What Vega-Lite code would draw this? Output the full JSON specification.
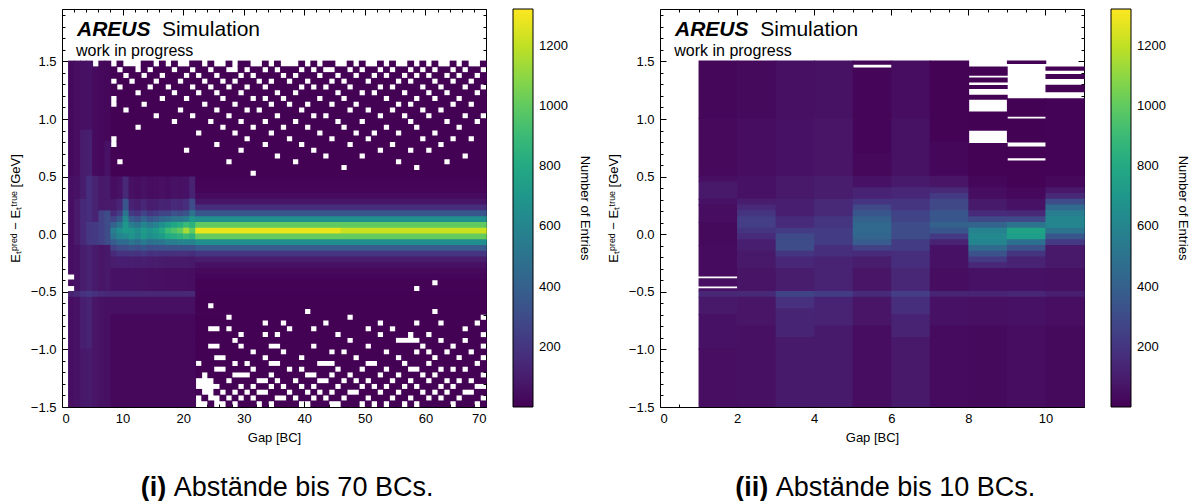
{
"$schema": "https://vega.github.io/schema/vega-lite/v6.json",
"background": "white",
"padding": {"left": 8, "top": 8, "right": 0, "bottom": 0},
"config": {
  "font": "Liberation Sans",
  "view": {"stroke": "#000", "strokeWidth": 1},
  "axis": {"domain": false, "grid": false, "tickColor": "#000", "labelColor": "#000", "titleColor": "#000", "labelFont": "Liberation Sans", "titleFont": "Liberation Sans", "labelFontSize": 13, "titleFontSize": 13, "titleFontWeight": "normal", "tickWidth": 1},
  "legend": {"labelFont": "Liberation Sans", "titleFont": "Liberation Sans", "labelFontSize": 13, "titleFontSize": 13, "titleFontWeight": "normal", "labelColor": "#000", "titleColor": "#000"},
  "text": {"font": "Liberation Sans", "color": "#000"}
},
"datasets": {
  "L": [
    {"x":1,"x2":2,"y":0.5,"y2":1.5,"n":30},{"x":1,"x2":2,"y":-0.35,"y2":0.5,"n":45},{"x":1,"x2":2,"y":-0.45,"y2":-0.4,"n":40},{"x":1,"x2":2,"y":-0.55,"y2":-0.5,"n":120},{"x":1,"x2":2,"y":-1.5,"y2":-0.55,"n":45},
    {"x":2,"x2":3,"y":0.5,"y2":1.5,"n":40},{"x":2,"x2":3,"y":0.3,"y2":0.5,"n":60},{"x":2,"x2":3,"y":-0.1,"y2":0.3,"n":90},{"x":2,"x2":3,"y":-0.5,"y2":-0.1,"n":60},{"x":2,"x2":3,"y":-0.55,"y2":-0.5,"n":150},{"x":2,"x2":3,"y":-1.5,"y2":-0.55,"n":60},
    {"x":3,"x2":4,"y":0.9,"y2":1.5,"n":50},{"x":3,"x2":4,"y":0.3,"y2":0.9,"n":100},{"x":3,"x2":4,"y":-0.1,"y2":0.3,"n":150},{"x":3,"x2":4,"y":-0.5,"y2":-0.1,"n":100},{"x":3,"x2":4,"y":-0.55,"y2":-0.5,"n":190},{"x":3,"x2":4,"y":-1.0,"y2":-0.55,"n":110},{"x":3,"x2":4,"y":-1.5,"y2":-1.0,"n":80},
    {"x":4,"x2":5,"y":0.9,"y2":1.5,"n":60},{"x":4,"x2":5,"y":0.5,"y2":0.9,"n":110},{"x":4,"x2":5,"y":0.1,"y2":0.5,"n":170},{"x":4,"x2":5,"y":-0.1,"y2":0.1,"n":210},{"x":4,"x2":5,"y":-0.5,"y2":-0.1,"n":120},{"x":4,"x2":5,"y":-0.55,"y2":-0.5,"n":210},{"x":4,"x2":5,"y":-1.0,"y2":-0.55,"n":120},{"x":4,"x2":5,"y":-1.5,"y2":-1.0,"n":90},
    {"x":5,"x2":6,"y":0.5,"y2":1.45,"n":35},{"x":5,"x2":6,"y":0.1,"y2":0.5,"n":120},{"x":5,"x2":6,"y":-0.1,"y2":0.1,"n":220},{"x":5,"x2":6,"y":-0.5,"y2":-0.1,"n":90},{"x":5,"x2":6,"y":-0.55,"y2":-0.5,"n":180},{"x":5,"x2":6,"y":-1.5,"y2":-0.55,"n":70},
    {"x":6,"x2":7,"y":0.5,"y2":1.5,"n":25},{"x":6,"x2":7,"y":0.2,"y2":0.5,"n":80},{"x":6,"x2":7,"y":-0.1,"y2":0.2,"n":250},{"x":6,"x2":7,"y":-0.5,"y2":-0.1,"n":70},{"x":6,"x2":7,"y":-0.55,"y2":-0.5,"n":160},{"x":6,"x2":7,"y":-1.5,"y2":-0.55,"n":55},
    {"x":7,"x2":8,"y":0.8,"y2":1.5,"n":20},{"x":7,"x2":8,"y":0.5,"y2":0.8,"n":60},{"x":7,"x2":8,"y":0.2,"y2":0.5,"n":90},{"x":7,"x2":8,"y":-0.1,"y2":0.2,"n":300},{"x":7,"x2":8,"y":-0.5,"y2":-0.1,"n":80},{"x":7,"x2":8,"y":-0.55,"y2":-0.5,"n":150},{"x":7,"x2":8,"y":-1.5,"y2":-0.55,"n":50},

    {"x":8,"x2":9,"y":0.3,"y2":0.5,"n":40},{"x":8,"x2":9,"y":0.2,"y2":0.3,"n":90},{"x":8,"x2":9,"y":0.15,"y2":0.2,"n":160},{"x":8,"x2":9,"y":0.1,"y2":0.15,"n":260},{"x":8,"x2":9,"y":0.05,"y2":0.1,"n":400},{"x":8,"x2":9,"y":0,"y2":0.05,"n":560},{"x":8,"x2":9,"y":-0.05,"y2":0,"n":520},{"x":8,"x2":9,"y":-0.1,"y2":-0.05,"n":380},{"x":8,"x2":9,"y":-0.15,"y2":-0.1,"n":250},{"x":8,"x2":9,"y":-0.2,"y2":-0.15,"n":160},{"x":8,"x2":9,"y":-0.3,"y2":-0.2,"n":100},{"x":8,"x2":9,"y":-0.5,"y2":-0.3,"n":60},
    {"x":9,"x2":10,"y":0.3,"y2":0.5,"n":60},{"x":9,"x2":10,"y":0.2,"y2":0.3,"n":130},{"x":9,"x2":10,"y":0.15,"y2":0.2,"n":230},{"x":9,"x2":10,"y":0.1,"y2":0.15,"n":360},{"x":9,"x2":10,"y":0.05,"y2":0.1,"n":520},{"x":9,"x2":10,"y":0,"y2":0.05,"n":650},{"x":9,"x2":10,"y":-0.05,"y2":0,"n":600},{"x":9,"x2":10,"y":-0.1,"y2":-0.05,"n":450},{"x":9,"x2":10,"y":-0.15,"y2":-0.1,"n":300},{"x":9,"x2":10,"y":-0.2,"y2":-0.15,"n":190},{"x":9,"x2":10,"y":-0.3,"y2":-0.2,"n":110},{"x":9,"x2":10,"y":-0.5,"y2":-0.3,"n":60},
    {"x":10,"x2":11,"y":0.3,"y2":0.5,"n":150},{"x":10,"x2":11,"y":0.2,"y2":0.3,"n":350},{"x":10,"x2":11,"y":0.15,"y2":0.2,"n":500},{"x":10,"x2":11,"y":0.1,"y2":0.15,"n":620},{"x":10,"x2":11,"y":0.05,"y2":0.1,"n":700},{"x":10,"x2":11,"y":0,"y2":0.05,"n":720},{"x":10,"x2":11,"y":-0.05,"y2":0,"n":620},{"x":10,"x2":11,"y":-0.1,"y2":-0.05,"n":450},{"x":10,"x2":11,"y":-0.15,"y2":-0.1,"n":300},{"x":10,"x2":11,"y":-0.2,"y2":-0.15,"n":190},{"x":10,"x2":11,"y":-0.3,"y2":-0.2,"n":110},{"x":10,"x2":11,"y":-0.5,"y2":-0.3,"n":60},
    {"x":11,"x2":12,"y":0.3,"y2":0.5,"n":50},{"x":11,"x2":12,"y":0.2,"y2":0.3,"n":120},{"x":11,"x2":12,"y":0.15,"y2":0.2,"n":220},{"x":11,"x2":12,"y":0.1,"y2":0.15,"n":380},{"x":11,"x2":12,"y":0.05,"y2":0.1,"n":560},{"x":11,"x2":12,"y":0,"y2":0.05,"n":700},{"x":11,"x2":12,"y":-0.05,"y2":0,"n":680},{"x":11,"x2":12,"y":-0.1,"y2":-0.05,"n":520},{"x":11,"x2":12,"y":-0.15,"y2":-0.1,"n":340},{"x":11,"x2":12,"y":-0.2,"y2":-0.15,"n":200},{"x":11,"x2":12,"y":-0.3,"y2":-0.2,"n":110},{"x":11,"x2":12,"y":-0.5,"y2":-0.3,"n":60},
    {"x":12,"x2":13,"y":0.3,"y2":0.5,"n":40},{"x":12,"x2":13,"y":0.2,"y2":0.3,"n":100},{"x":12,"x2":13,"y":0.15,"y2":0.2,"n":190},{"x":12,"x2":13,"y":0.1,"y2":0.15,"n":330},{"x":12,"x2":13,"y":0.05,"y2":0.1,"n":500},{"x":12,"x2":13,"y":0,"y2":0.05,"n":640},{"x":12,"x2":13,"y":-0.05,"y2":0,"n":620},{"x":12,"x2":13,"y":-0.1,"y2":-0.05,"n":470},{"x":12,"x2":13,"y":-0.15,"y2":-0.1,"n":310},{"x":12,"x2":13,"y":-0.2,"y2":-0.15,"n":190},{"x":12,"x2":13,"y":-0.3,"y2":-0.2,"n":100},{"x":12,"x2":13,"y":-0.5,"y2":-0.3,"n":55},
    {"x":13,"x2":14,"y":0.3,"y2":0.5,"n":60},{"x":13,"x2":14,"y":0.2,"y2":0.3,"n":140},{"x":13,"x2":14,"y":0.15,"y2":0.2,"n":260},{"x":13,"x2":14,"y":0.1,"y2":0.15,"n":420},{"x":13,"x2":14,"y":0.05,"y2":0.1,"n":600},{"x":13,"x2":14,"y":0,"y2":0.05,"n":720},{"x":13,"x2":14,"y":-0.05,"y2":0,"n":700},{"x":13,"x2":14,"y":-0.1,"y2":-0.05,"n":540},{"x":13,"x2":14,"y":-0.15,"y2":-0.1,"n":350},{"x":13,"x2":14,"y":-0.2,"y2":-0.15,"n":210},{"x":13,"x2":14,"y":-0.3,"y2":-0.2,"n":110},{"x":13,"x2":14,"y":-0.5,"y2":-0.3,"n":55},
    {"x":14,"x2":15,"y":0.3,"y2":0.5,"n":40},{"x":14,"x2":15,"y":0.2,"y2":0.3,"n":100},{"x":14,"x2":15,"y":0.15,"y2":0.2,"n":200},{"x":14,"x2":15,"y":0.1,"y2":0.15,"n":350},{"x":14,"x2":15,"y":0.05,"y2":0.1,"n":540},{"x":14,"x2":15,"y":0,"y2":0.05,"n":680},{"x":14,"x2":15,"y":-0.05,"y2":0,"n":640},{"x":14,"x2":15,"y":-0.1,"y2":-0.05,"n":480},{"x":14,"x2":15,"y":-0.15,"y2":-0.1,"n":310},{"x":14,"x2":15,"y":-0.2,"y2":-0.15,"n":180},{"x":14,"x2":15,"y":-0.3,"y2":-0.2,"n":100},{"x":14,"x2":15,"y":-0.5,"y2":-0.3,"n":50},
    {"x":15,"x2":16,"y":0.3,"y2":0.5,"n":40},{"x":15,"x2":16,"y":0.2,"y2":0.3,"n":110},{"x":15,"x2":16,"y":0.15,"y2":0.2,"n":220},{"x":15,"x2":16,"y":0.1,"y2":0.15,"n":380},{"x":15,"x2":16,"y":0.05,"y2":0.1,"n":580},{"x":15,"x2":16,"y":0,"y2":0.05,"n":720},{"x":15,"x2":16,"y":-0.05,"y2":0,"n":680},{"x":15,"x2":16,"y":-0.1,"y2":-0.05,"n":500},{"x":15,"x2":16,"y":-0.15,"y2":-0.1,"n":320},{"x":15,"x2":16,"y":-0.2,"y2":-0.15,"n":190},{"x":15,"x2":16,"y":-0.3,"y2":-0.2,"n":100},{"x":15,"x2":16,"y":-0.5,"y2":-0.3,"n":50},
    {"x":16,"x2":17,"y":0.3,"y2":0.5,"n":50},{"x":16,"x2":17,"y":0.2,"y2":0.3,"n":130},{"x":16,"x2":17,"y":0.15,"y2":0.2,"n":260},{"x":16,"x2":17,"y":0.1,"y2":0.15,"n":440},{"x":16,"x2":17,"y":0.05,"y2":0.1,"n":650},{"x":16,"x2":17,"y":0,"y2":0.05,"n":800},{"x":16,"x2":17,"y":-0.05,"y2":0,"n":720},{"x":16,"x2":17,"y":-0.1,"y2":-0.05,"n":520},{"x":16,"x2":17,"y":-0.15,"y2":-0.1,"n":320},{"x":16,"x2":17,"y":-0.2,"y2":-0.15,"n":180},{"x":16,"x2":17,"y":-0.3,"y2":-0.2,"n":95},{"x":16,"x2":17,"y":-0.5,"y2":-0.3,"n":50},
    {"x":17,"x2":18,"y":0.3,"y2":0.5,"n":40},{"x":17,"x2":18,"y":0.2,"y2":0.3,"n":120},{"x":17,"x2":18,"y":0.15,"y2":0.2,"n":260},{"x":17,"x2":18,"y":0.1,"y2":0.15,"n":460},{"x":17,"x2":18,"y":0.05,"y2":0.1,"n":720},{"x":17,"x2":18,"y":0,"y2":0.05,"n":900},{"x":17,"x2":18,"y":-0.05,"y2":0,"n":800},{"x":17,"x2":18,"y":-0.1,"y2":-0.05,"n":560},{"x":17,"x2":18,"y":-0.15,"y2":-0.1,"n":330},{"x":17,"x2":18,"y":-0.2,"y2":-0.15,"n":180},{"x":17,"x2":18,"y":-0.3,"y2":-0.2,"n":90},{"x":17,"x2":18,"y":-0.5,"y2":-0.3,"n":45},
    {"x":18,"x2":19,"y":0.3,"y2":0.5,"n":60},{"x":18,"x2":19,"y":0.2,"y2":0.3,"n":160},{"x":18,"x2":19,"y":0.15,"y2":0.2,"n":320},{"x":18,"x2":19,"y":0.1,"y2":0.15,"n":520},{"x":18,"x2":19,"y":0.05,"y2":0.1,"n":780},{"x":18,"x2":19,"y":0,"y2":0.05,"n":950},{"x":18,"x2":19,"y":-0.05,"y2":0,"n":820},{"x":18,"x2":19,"y":-0.1,"y2":-0.05,"n":560},{"x":18,"x2":19,"y":-0.15,"y2":-0.1,"n":330},{"x":18,"x2":19,"y":-0.2,"y2":-0.15,"n":180},{"x":18,"x2":19,"y":-0.3,"y2":-0.2,"n":90},{"x":18,"x2":19,"y":-0.5,"y2":-0.3,"n":45},
    {"x":19,"x2":20,"y":0.3,"y2":0.5,"n":50},{"x":19,"x2":20,"y":0.2,"y2":0.3,"n":140},{"x":19,"x2":20,"y":0.15,"y2":0.2,"n":300},{"x":19,"x2":20,"y":0.1,"y2":0.15,"n":520},{"x":19,"x2":20,"y":0.05,"y2":0.1,"n":820},{"x":19,"x2":20,"y":0,"y2":0.05,"n":1000},{"x":19,"x2":20,"y":-0.05,"y2":0,"n":850},{"x":19,"x2":20,"y":-0.1,"y2":-0.05,"n":580},{"x":19,"x2":20,"y":-0.15,"y2":-0.1,"n":340},{"x":19,"x2":20,"y":-0.2,"y2":-0.15,"n":180},{"x":19,"x2":20,"y":-0.3,"y2":-0.2,"n":90},{"x":19,"x2":20,"y":-0.5,"y2":-0.3,"n":45},
    {"x":20,"x2":21,"y":0.3,"y2":0.5,"n":60},{"x":20,"x2":21,"y":0.2,"y2":0.3,"n":170},{"x":20,"x2":21,"y":0.15,"y2":0.2,"n":340},{"x":20,"x2":21,"y":0.1,"y2":0.15,"n":560},{"x":20,"x2":21,"y":0.05,"y2":0.1,"n":900},{"x":20,"x2":21,"y":0,"y2":0.05,"n":1150},{"x":20,"x2":21,"y":-0.05,"y2":0,"n":900},{"x":20,"x2":21,"y":-0.1,"y2":-0.05,"n":600},{"x":20,"x2":21,"y":-0.15,"y2":-0.1,"n":340},{"x":20,"x2":21,"y":-0.2,"y2":-0.15,"n":180},{"x":20,"x2":21,"y":-0.3,"y2":-0.2,"n":90},{"x":20,"x2":21,"y":-0.5,"y2":-0.3,"n":45},
    {"x":21,"x2":22,"y":0.3,"y2":0.5,"n":120},{"x":21,"x2":22,"y":0.2,"y2":0.3,"n":300},{"x":21,"x2":22,"y":0.15,"y2":0.2,"n":500},{"x":21,"x2":22,"y":0.1,"y2":0.15,"n":700},{"x":21,"x2":22,"y":0.05,"y2":0.1,"n":850},{"x":21,"x2":22,"y":0,"y2":0.05,"n":1000},{"x":21,"x2":22,"y":-0.05,"y2":0,"n":850},{"x":21,"x2":22,"y":-0.1,"y2":-0.05,"n":580},{"x":21,"x2":22,"y":-0.15,"y2":-0.1,"n":330},{"x":21,"x2":22,"y":-0.2,"y2":-0.15,"n":170},{"x":21,"x2":22,"y":-0.3,"y2":-0.2,"n":85},{"x":21,"x2":22,"y":-0.5,"y2":-0.3,"n":40},
    {"x":8,"x2":22,"y":-0.55,"y2":-0.5,"n":140},{"x":8,"x2":22,"y":-0.7,"y2":-0.55,"n":50},{"x":8,"x2":22,"y":-1.5,"y2":-0.7,"n":25},

    {"x":22,"x2":70,"y":0.45,"y2":0.5,"n":6},{"x":22,"x2":70,"y":0.4,"y2":0.45,"n":10},{"x":22,"x2":70,"y":0.35,"y2":0.4,"n":18},{"x":22,"x2":70,"y":0.3,"y2":0.35,"n":35},{"x":22,"x2":70,"y":0.25,"y2":0.3,"n":75},{"x":22,"x2":70,"y":0.2,"y2":0.25,"n":170},{"x":22,"x2":70,"y":0.15,"y2":0.2,"n":350},{"x":22,"x2":70,"y":0.1,"y2":0.15,"n":650},{"x":22,"x2":70,"y":0.05,"y2":0.1,"n":1000},
    {"x":22,"x2":46,"y":0,"y2":0.05,"n":1280},{"x":46,"x2":70,"y":0,"y2":0.05,"n":1220},
    {"x":22,"x2":70,"y":-0.05,"y2":0,"n":1010},{"x":22,"x2":70,"y":-0.1,"y2":-0.05,"n":650},{"x":22,"x2":70,"y":-0.15,"y2":-0.1,"n":380},{"x":22,"x2":70,"y":-0.2,"y2":-0.15,"n":200},{"x":22,"x2":70,"y":-0.25,"y2":-0.2,"n":100},{"x":22,"x2":70,"y":-0.3,"y2":-0.25,"n":50},{"x":22,"x2":70,"y":-0.35,"y2":-0.3,"n":28},{"x":22,"x2":70,"y":-0.4,"y2":-0.35,"n":15},
    {"x":22,"x2":61,"y":-0.45,"y2":-0.4,"n":8},{"x":62,"x2":70,"y":-0.45,"y2":-0.4,"n":8},{"x":22,"x2":58,"y":-0.5,"y2":-0.45,"n":6},{"x":59,"x2":70,"y":-0.5,"y2":-0.45,"n":6},{"x":22,"x2":70,"y":-0.6,"y2":-0.5,"n":5},

    {"x":9,"x2":10,"y":1.45,"y2":1.5,"n":3},{"x":13,"x2":15,"y":1.45,"y2":1.5,"n":3},{"x":16,"x2":17,"y":1.45,"y2":1.5,"n":3},{"x":18,"x2":19,"y":1.45,"y2":1.5,"n":3},{"x":21,"x2":23,"y":1.45,"y2":1.5,"n":3},{"x":24,"x2":25,"y":1.45,"y2":1.5,"n":3},{"x":27,"x2":28,"y":1.45,"y2":1.5,"n":3},{"x":29,"x2":31,"y":1.45,"y2":1.5,"n":3},{"x":33,"x2":34,"y":1.45,"y2":1.5,"n":3},{"x":35,"x2":36,"y":1.45,"y2":1.5,"n":3},{"x":39,"x2":40,"y":1.45,"y2":1.5,"n":3},{"x":41,"x2":42,"y":1.45,"y2":1.5,"n":3},{"x":43,"x2":45,"y":1.45,"y2":1.5,"n":3},{"x":47,"x2":48,"y":1.45,"y2":1.5,"n":3},{"x":49,"x2":50,"y":1.45,"y2":1.5,"n":3},{"x":52,"x2":53,"y":1.45,"y2":1.5,"n":3},{"x":54,"x2":55,"y":1.45,"y2":1.5,"n":3},{"x":57,"x2":58,"y":1.45,"y2":1.5,"n":3},{"x":59,"x2":60,"y":1.45,"y2":1.5,"n":3},{"x":61,"x2":62,"y":1.45,"y2":1.5,"n":3},{"x":64,"x2":65,"y":1.45,"y2":1.5,"n":3},{"x":66,"x2":67,"y":1.45,"y2":1.5,"n":3},{"x":69,"x2":70,"y":1.45,"y2":1.5,"n":3},
    {"x":8,"x2":9,"y":1.4,"y2":1.45,"n":3},{"x":10,"x2":12,"y":1.4,"y2":1.45,"n":3},{"x":13,"x2":14,"y":1.4,"y2":1.45,"n":3},{"x":15,"x2":18,"y":1.4,"y2":1.45,"n":3},{"x":19,"x2":21,"y":1.4,"y2":1.45,"n":3},{"x":22,"x2":24,"y":1.4,"y2":1.45,"n":3},{"x":25,"x2":27,"y":1.4,"y2":1.45,"n":3},{"x":29,"x2":30,"y":1.4,"y2":1.45,"n":3},{"x":31,"x2":33,"y":1.4,"y2":1.45,"n":3},{"x":34,"x2":35,"y":1.4,"y2":1.45,"n":3},{"x":36,"x2":39,"y":1.4,"y2":1.45,"n":3},{"x":40,"x2":41,"y":1.4,"y2":1.45,"n":3},{"x":42,"x2":43,"y":1.4,"y2":1.45,"n":3},{"x":45,"x2":47,"y":1.4,"y2":1.45,"n":3},{"x":48,"x2":49,"y":1.4,"y2":1.45,"n":3},{"x":50,"x2":52,"y":1.4,"y2":1.45,"n":3},{"x":53,"x2":54,"y":1.4,"y2":1.45,"n":3},{"x":55,"x2":57,"y":1.4,"y2":1.45,"n":3},{"x":58,"x2":59,"y":1.4,"y2":1.45,"n":3},{"x":60,"x2":61,"y":1.4,"y2":1.45,"n":3},{"x":62,"x2":64,"y":1.4,"y2":1.45,"n":3},{"x":65,"x2":66,"y":1.4,"y2":1.45,"n":3},{"x":67,"x2":69,"y":1.4,"y2":1.45,"n":3},
    {"x":8,"x2":10,"y":1.35,"y2":1.4,"n":3},{"x":11,"x2":13,"y":1.35,"y2":1.4,"n":3},{"x":14,"x2":16,"y":1.35,"y2":1.4,"n":3},{"x":17,"x2":20,"y":1.35,"y2":1.4,"n":3},{"x":21,"x2":22,"y":1.35,"y2":1.4,"n":3},{"x":23,"x2":25,"y":1.35,"y2":1.4,"n":3},{"x":26,"x2":29,"y":1.35,"y2":1.4,"n":3},{"x":30,"x2":31,"y":1.35,"y2":1.4,"n":3},{"x":32,"x2":36,"y":1.35,"y2":1.4,"n":3},{"x":37,"x2":38,"y":1.35,"y2":1.4,"n":3},{"x":39,"x2":42,"y":1.35,"y2":1.4,"n":3},{"x":43,"x2":45,"y":1.35,"y2":1.4,"n":3},{"x":46,"x2":48,"y":1.35,"y2":1.4,"n":3},{"x":49,"x2":51,"y":1.35,"y2":1.4,"n":3},{"x":52,"x2":53,"y":1.35,"y2":1.4,"n":3},{"x":54,"x2":56,"y":1.35,"y2":1.4,"n":3},{"x":57,"x2":58,"y":1.35,"y2":1.4,"n":3},{"x":59,"x2":60,"y":1.35,"y2":1.4,"n":3},{"x":61,"x2":63,"y":1.35,"y2":1.4,"n":3},{"x":64,"x2":65,"y":1.35,"y2":1.4,"n":3},{"x":66,"x2":68,"y":1.35,"y2":1.4,"n":3},{"x":69,"x2":70,"y":1.35,"y2":1.4,"n":3},
    {"x":9,"x2":11,"y":1.3,"y2":1.35,"n":3},{"x":12,"x2":15,"y":1.3,"y2":1.35,"n":3},{"x":16,"x2":19,"y":1.3,"y2":1.35,"n":3},{"x":20,"x2":23,"y":1.3,"y2":1.35,"n":3},{"x":24,"x2":26,"y":1.3,"y2":1.35,"n":3},{"x":27,"x2":28,"y":1.3,"y2":1.35,"n":3},{"x":29,"x2":32,"y":1.3,"y2":1.35,"n":3},{"x":33,"x2":34,"y":1.3,"y2":1.35,"n":3},{"x":35,"x2":37,"y":1.3,"y2":1.35,"n":3},{"x":38,"x2":40,"y":1.3,"y2":1.35,"n":3},{"x":41,"x2":44,"y":1.3,"y2":1.35,"n":3},{"x":45,"x2":46,"y":1.3,"y2":1.35,"n":3},{"x":47,"x2":50,"y":1.3,"y2":1.35,"n":3},{"x":51,"x2":55,"y":1.3,"y2":1.35,"n":3},{"x":56,"x2":57,"y":1.3,"y2":1.35,"n":3},{"x":58,"x2":61,"y":1.3,"y2":1.35,"n":3},{"x":62,"x2":64,"y":1.3,"y2":1.35,"n":3},{"x":65,"x2":67,"y":1.3,"y2":1.35,"n":3},{"x":68,"x2":70,"y":1.3,"y2":1.35,"n":3},
    {"x":8,"x2":9,"y":1.25,"y2":1.3,"n":3},{"x":10,"x2":14,"y":1.25,"y2":1.3,"n":3},{"x":15,"x2":17,"y":1.25,"y2":1.3,"n":3},{"x":18,"x2":21,"y":1.25,"y2":1.3,"n":3},{"x":22,"x2":24,"y":1.25,"y2":1.3,"n":3},{"x":25,"x2":27,"y":1.25,"y2":1.3,"n":3},{"x":28,"x2":30,"y":1.25,"y2":1.3,"n":3},{"x":31,"x2":33,"y":1.25,"y2":1.3,"n":3},{"x":34,"x2":39,"y":1.25,"y2":1.3,"n":3},{"x":40,"x2":41,"y":1.25,"y2":1.3,"n":3},{"x":42,"x2":43,"y":1.25,"y2":1.3,"n":3},{"x":44,"x2":47,"y":1.25,"y2":1.3,"n":3},{"x":48,"x2":52,"y":1.25,"y2":1.3,"n":3},{"x":53,"x2":54,"y":1.25,"y2":1.3,"n":3},{"x":55,"x2":59,"y":1.25,"y2":1.3,"n":3},{"x":60,"x2":62,"y":1.25,"y2":1.3,"n":3},{"x":63,"x2":66,"y":1.25,"y2":1.3,"n":3},{"x":67,"x2":69,"y":1.25,"y2":1.3,"n":3},
    {"x":8,"x2":12,"y":1.2,"y2":1.25,"n":3},{"x":13,"x2":18,"y":1.2,"y2":1.25,"n":3},{"x":19,"x2":22,"y":1.2,"y2":1.25,"n":3},{"x":23,"x2":25,"y":1.2,"y2":1.25,"n":3},{"x":26,"x2":29,"y":1.2,"y2":1.25,"n":3},{"x":30,"x2":35,"y":1.2,"y2":1.25,"n":3},{"x":36,"x2":38,"y":1.2,"y2":1.25,"n":3},{"x":39,"x2":45,"y":1.2,"y2":1.25,"n":3},{"x":46,"x2":49,"y":1.2,"y2":1.25,"n":3},{"x":50,"x2":51,"y":1.2,"y2":1.25,"n":3},{"x":52,"x2":56,"y":1.2,"y2":1.25,"n":3},{"x":57,"x2":60,"y":1.2,"y2":1.25,"n":3},{"x":61,"x2":63,"y":1.2,"y2":1.25,"n":3},{"x":64,"x2":68,"y":1.2,"y2":1.25,"n":3},{"x":69,"x2":70,"y":1.2,"y2":1.25,"n":3},
    {"x":9,"x2":16,"y":1.15,"y2":1.2,"n":3},{"x":17,"x2":20,"y":1.15,"y2":1.2,"n":3},{"x":21,"x2":26,"y":1.15,"y2":1.2,"n":3},{"x":27,"x2":31,"y":1.15,"y2":1.2,"n":3},{"x":32,"x2":33,"y":1.15,"y2":1.2,"n":3},{"x":34,"x2":36,"y":1.15,"y2":1.2,"n":3},{"x":37,"x2":42,"y":1.15,"y2":1.2,"n":3},{"x":43,"x2":46,"y":1.15,"y2":1.2,"n":3},{"x":47,"x2":53,"y":1.15,"y2":1.2,"n":3},{"x":54,"x2":58,"y":1.15,"y2":1.2,"n":3},{"x":59,"x2":61,"y":1.15,"y2":1.2,"n":3},{"x":62,"x2":65,"y":1.15,"y2":1.2,"n":3},{"x":66,"x2":70,"y":1.15,"y2":1.2,"n":3},
    {"x":9,"x2":13,"y":1.1,"y2":1.15,"n":3},{"x":14,"x2":23,"y":1.1,"y2":1.15,"n":3},{"x":24,"x2":28,"y":1.1,"y2":1.15,"n":3},{"x":29,"x2":34,"y":1.1,"y2":1.15,"n":3},{"x":35,"x2":37,"y":1.1,"y2":1.15,"n":3},{"x":38,"x2":40,"y":1.1,"y2":1.15,"n":3},{"x":41,"x2":44,"y":1.1,"y2":1.15,"n":3},{"x":45,"x2":48,"y":1.1,"y2":1.15,"n":3},{"x":49,"x2":55,"y":1.1,"y2":1.15,"n":3},{"x":56,"x2":57,"y":1.1,"y2":1.15,"n":3},{"x":58,"x2":64,"y":1.1,"y2":1.15,"n":3},{"x":65,"x2":67,"y":1.1,"y2":1.15,"n":3},{"x":68,"x2":70,"y":1.1,"y2":1.15,"n":3},
    {"x":8,"x2":10,"y":1.05,"y2":1.1,"n":3},{"x":11,"x2":19,"y":1.05,"y2":1.1,"n":3},{"x":20,"x2":25,"y":1.05,"y2":1.1,"n":3},{"x":26,"x2":30,"y":1.05,"y2":1.1,"n":3},{"x":31,"x2":32,"y":1.05,"y2":1.1,"n":3},{"x":33,"x2":39,"y":1.05,"y2":1.1,"n":3},{"x":40,"x2":47,"y":1.05,"y2":1.1,"n":3},{"x":48,"x2":50,"y":1.05,"y2":1.1,"n":3},{"x":51,"x2":54,"y":1.05,"y2":1.1,"n":3},{"x":55,"x2":59,"y":1.05,"y2":1.1,"n":3},{"x":60,"x2":62,"y":1.05,"y2":1.1,"n":3},{"x":63,"x2":70,"y":1.05,"y2":1.1,"n":3},
    {"x":8,"x2":15,"y":1.0,"y2":1.05,"n":3},{"x":16,"x2":21,"y":1.0,"y2":1.05,"n":3},{"x":22,"x2":27,"y":1.0,"y2":1.05,"n":3},{"x":28,"x2":35,"y":1.0,"y2":1.05,"n":3},{"x":36,"x2":41,"y":1.0,"y2":1.05,"n":3},{"x":42,"x2":43,"y":1.0,"y2":1.05,"n":3},{"x":44,"x2":52,"y":1.0,"y2":1.05,"n":3},{"x":53,"x2":56,"y":1.0,"y2":1.05,"n":3},{"x":57,"x2":60,"y":1.0,"y2":1.05,"n":3},{"x":61,"x2":66,"y":1.0,"y2":1.05,"n":3},{"x":67,"x2":69,"y":1.0,"y2":1.05,"n":3},
    {"x":8,"x2":18,"y":0.95,"y2":1.0,"n":3},{"x":19,"x2":24,"y":0.95,"y2":1.0,"n":3},{"x":25,"x2":29,"y":0.95,"y2":1.0,"n":3},{"x":30,"x2":33,"y":0.95,"y2":1.0,"n":3},{"x":34,"x2":38,"y":0.95,"y2":1.0,"n":3},{"x":39,"x2":45,"y":0.95,"y2":1.0,"n":3},{"x":46,"x2":49,"y":0.95,"y2":1.0,"n":3},{"x":50,"x2":57,"y":0.95,"y2":1.0,"n":3},{"x":58,"x2":63,"y":0.95,"y2":1.0,"n":3},{"x":64,"x2":68,"y":0.95,"y2":1.0,"n":3},{"x":69,"x2":70,"y":0.95,"y2":1.0,"n":3},
    {"x":8,"x2":12,"y":0.9,"y2":0.95,"n":3},{"x":13,"x2":26,"y":0.9,"y2":0.95,"n":3},{"x":27,"x2":31,"y":0.9,"y2":0.95,"n":3},{"x":32,"x2":36,"y":0.9,"y2":0.95,"n":3},{"x":37,"x2":40,"y":0.9,"y2":0.95,"n":3},{"x":41,"x2":46,"y":0.9,"y2":0.95,"n":3},{"x":47,"x2":53,"y":0.9,"y2":0.95,"n":3},{"x":54,"x2":58,"y":0.9,"y2":0.95,"n":3},{"x":59,"x2":65,"y":0.9,"y2":0.95,"n":3},{"x":66,"x2":70,"y":0.9,"y2":0.95,"n":3},
    {"x":8,"x2":22,"y":0.85,"y2":0.9,"n":3},{"x":23,"x2":28,"y":0.85,"y2":0.9,"n":3},{"x":29,"x2":34,"y":0.85,"y2":0.9,"n":3},{"x":35,"x2":42,"y":0.85,"y2":0.9,"n":3},{"x":43,"x2":48,"y":0.85,"y2":0.9,"n":3},{"x":49,"x2":51,"y":0.85,"y2":0.9,"n":3},{"x":52,"x2":55,"y":0.85,"y2":0.9,"n":3},{"x":56,"x2":61,"y":0.85,"y2":0.9,"n":3},{"x":62,"x2":70,"y":0.85,"y2":0.9,"n":3},
    {"x":9,"x2":30,"y":0.8,"y2":0.85,"n":3},{"x":31,"x2":37,"y":0.8,"y2":0.85,"n":3},{"x":38,"x2":44,"y":0.8,"y2":0.85,"n":3},{"x":45,"x2":50,"y":0.8,"y2":0.85,"n":3},{"x":51,"x2":59,"y":0.8,"y2":0.85,"n":3},{"x":60,"x2":64,"y":0.8,"y2":0.85,"n":3},{"x":65,"x2":67,"y":0.8,"y2":0.85,"n":3},{"x":68,"x2":70,"y":0.8,"y2":0.85,"n":3},
    {"x":9,"x2":25,"y":0.75,"y2":0.8,"n":3},{"x":26,"x2":33,"y":0.75,"y2":0.8,"n":3},{"x":34,"x2":39,"y":0.75,"y2":0.8,"n":3},{"x":40,"x2":47,"y":0.75,"y2":0.8,"n":3},{"x":48,"x2":54,"y":0.75,"y2":0.8,"n":3},{"x":55,"x2":62,"y":0.75,"y2":0.8,"n":3},{"x":63,"x2":70,"y":0.75,"y2":0.8,"n":3},
    {"x":8,"x2":20,"y":0.7,"y2":0.75,"n":3},{"x":21,"x2":29,"y":0.7,"y2":0.75,"n":3},{"x":30,"x2":41,"y":0.7,"y2":0.75,"n":3},{"x":42,"x2":52,"y":0.7,"y2":0.75,"n":3},{"x":53,"x2":57,"y":0.7,"y2":0.75,"n":3},{"x":58,"x2":60,"y":0.7,"y2":0.75,"n":3},{"x":61,"x2":70,"y":0.7,"y2":0.75,"n":3},
    {"x":8,"x2":35,"y":0.65,"y2":0.7,"n":3},{"x":36,"x2":43,"y":0.65,"y2":0.7,"n":3},{"x":44,"x2":49,"y":0.65,"y2":0.7,"n":3},{"x":50,"x2":66,"y":0.65,"y2":0.7,"n":3},{"x":67,"x2":70,"y":0.65,"y2":0.7,"n":3},
    {"x":8,"x2":9,"y":0.6,"y2":0.65,"n":3},{"x":10,"x2":27,"y":0.6,"y2":0.65,"n":3},{"x":28,"x2":38,"y":0.6,"y2":0.65,"n":3},{"x":39,"x2":55,"y":0.6,"y2":0.65,"n":3},{"x":56,"x2":63,"y":0.6,"y2":0.65,"n":3},{"x":64,"x2":70,"y":0.6,"y2":0.65,"n":3},
    {"x":8,"x2":46,"y":0.55,"y2":0.6,"n":4},{"x":47,"x2":58,"y":0.55,"y2":0.6,"n":4},{"x":59,"x2":70,"y":0.55,"y2":0.6,"n":4},
    {"x":8,"x2":31,"y":0.5,"y2":0.55,"n":5},{"x":32,"x2":70,"y":0.5,"y2":0.55,"n":5},

    {"x":22,"x2":24,"y":-0.65,"y2":-0.6,"n":3},{"x":25,"x2":70,"y":-0.65,"y2":-0.6,"n":3},
    {"x":22,"x2":40,"y":-0.7,"y2":-0.65,"n":3},{"x":41,"x2":61,"y":-0.7,"y2":-0.65,"n":3},{"x":62,"x2":70,"y":-0.7,"y2":-0.65,"n":3},
    {"x":22,"x2":27,"y":-0.75,"y2":-0.7,"n":3},{"x":28,"x2":47,"y":-0.75,"y2":-0.7,"n":3},{"x":48,"x2":69,"y":-0.75,"y2":-0.7,"n":3},
    {"x":22,"x2":33,"y":-0.8,"y2":-0.75,"n":3},{"x":34,"x2":36,"y":-0.8,"y2":-0.75,"n":3},{"x":37,"x2":43,"y":-0.8,"y2":-0.75,"n":3},{"x":44,"x2":52,"y":-0.8,"y2":-0.75,"n":3},{"x":53,"x2":58,"y":-0.8,"y2":-0.75,"n":3},{"x":59,"x2":62,"y":-0.8,"y2":-0.75,"n":3},{"x":63,"x2":68,"y":-0.8,"y2":-0.75,"n":3},{"x":69,"x2":70,"y":-0.8,"y2":-0.75,"n":3},
    {"x":22,"x2":24,"y":-0.85,"y2":-0.8,"n":3},{"x":26,"x2":27,"y":-0.85,"y2":-0.8,"n":3},{"x":28,"x2":37,"y":-0.85,"y2":-0.8,"n":3},{"x":38,"x2":41,"y":-0.85,"y2":-0.8,"n":3},{"x":42,"x2":50,"y":-0.85,"y2":-0.8,"n":3},{"x":51,"x2":54,"y":-0.85,"y2":-0.8,"n":3},{"x":55,"x2":66,"y":-0.85,"y2":-0.8,"n":3},{"x":67,"x2":70,"y":-0.85,"y2":-0.8,"n":3},
    {"x":22,"x2":29,"y":-0.9,"y2":-0.85,"n":3},{"x":30,"x2":33,"y":-0.9,"y2":-0.85,"n":3},{"x":34,"x2":35,"y":-0.9,"y2":-0.85,"n":3},{"x":36,"x2":45,"y":-0.9,"y2":-0.85,"n":3},{"x":46,"x2":52,"y":-0.9,"y2":-0.85,"n":3},{"x":53,"x2":57,"y":-0.9,"y2":-0.85,"n":3},{"x":58,"x2":60,"y":-0.9,"y2":-0.85,"n":3},{"x":61,"x2":69,"y":-0.9,"y2":-0.85,"n":3},
    {"x":22,"x2":28,"y":-0.95,"y2":-0.9,"n":3},{"x":29,"x2":47,"y":-0.95,"y2":-0.9,"n":3},{"x":48,"x2":55,"y":-0.95,"y2":-0.9,"n":3},{"x":59,"x2":62,"y":-0.95,"y2":-0.9,"n":3},{"x":63,"x2":66,"y":-0.95,"y2":-0.9,"n":3},{"x":67,"x2":70,"y":-0.95,"y2":-0.9,"n":3},
    {"x":22,"x2":24,"y":-1.0,"y2":-0.95,"n":3},{"x":26,"x2":29,"y":-1.0,"y2":-0.95,"n":3},{"x":30,"x2":34,"y":-1.0,"y2":-0.95,"n":3},{"x":36,"x2":41,"y":-1.0,"y2":-0.95,"n":3},{"x":42,"x2":50,"y":-1.0,"y2":-0.95,"n":3},{"x":51,"x2":59,"y":-1.0,"y2":-0.95,"n":3},{"x":60,"x2":64,"y":-1.0,"y2":-0.95,"n":3},{"x":65,"x2":69,"y":-1.0,"y2":-0.95,"n":3},
    {"x":22,"x2":31,"y":-1.05,"y2":-1.0,"n":3},{"x":32,"x2":36,"y":-1.05,"y2":-1.0,"n":3},{"x":37,"x2":44,"y":-1.05,"y2":-1.0,"n":3},{"x":45,"x2":46,"y":-1.05,"y2":-1.0,"n":3},{"x":47,"x2":53,"y":-1.05,"y2":-1.0,"n":3},{"x":54,"x2":58,"y":-1.05,"y2":-1.0,"n":3},{"x":59,"x2":60,"y":-1.05,"y2":-1.0,"n":3},{"x":61,"x2":63,"y":-1.05,"y2":-1.0,"n":3},{"x":64,"x2":67,"y":-1.05,"y2":-1.0,"n":3},{"x":68,"x2":70,"y":-1.05,"y2":-1.0,"n":3},
    {"x":22,"x2":25,"y":-1.1,"y2":-1.05,"n":3},{"x":27,"x2":33,"y":-1.1,"y2":-1.05,"n":3},{"x":34,"x2":39,"y":-1.1,"y2":-1.05,"n":3},{"x":40,"x2":48,"y":-1.1,"y2":-1.05,"n":3},{"x":49,"x2":55,"y":-1.1,"y2":-1.05,"n":3},{"x":56,"x2":61,"y":-1.1,"y2":-1.05,"n":3},{"x":62,"x2":65,"y":-1.1,"y2":-1.05,"n":3},{"x":66,"x2":69,"y":-1.1,"y2":-1.05,"n":3},
    {"x":23,"x2":28,"y":-1.15,"y2":-1.1,"n":3},{"x":29,"x2":30,"y":-1.15,"y2":-1.1,"n":3},{"x":31,"x2":34,"y":-1.15,"y2":-1.1,"n":3},{"x":36,"x2":42,"y":-1.15,"y2":-1.1,"n":3},{"x":45,"x2":50,"y":-1.15,"y2":-1.1,"n":3},{"x":52,"x2":56,"y":-1.15,"y2":-1.1,"n":3},{"x":57,"x2":60,"y":-1.15,"y2":-1.1,"n":3},{"x":61,"x2":68,"y":-1.15,"y2":-1.1,"n":3},{"x":69,"x2":70,"y":-1.15,"y2":-1.1,"n":3},
    {"x":22,"x2":25,"y":-1.2,"y2":-1.15,"n":3},{"x":27,"x2":31,"y":-1.2,"y2":-1.15,"n":3},{"x":32,"x2":37,"y":-1.2,"y2":-1.15,"n":3},{"x":38,"x2":39,"y":-1.2,"y2":-1.15,"n":3},{"x":40,"x2":45,"y":-1.2,"y2":-1.15,"n":3},{"x":46,"x2":49,"y":-1.2,"y2":-1.15,"n":3},{"x":50,"x2":53,"y":-1.2,"y2":-1.15,"n":3},{"x":54,"x2":57,"y":-1.2,"y2":-1.15,"n":3},{"x":59,"x2":62,"y":-1.2,"y2":-1.15,"n":3},{"x":63,"x2":64,"y":-1.2,"y2":-1.15,"n":3},{"x":65,"x2":66,"y":-1.2,"y2":-1.15,"n":3},{"x":67,"x2":70,"y":-1.2,"y2":-1.15,"n":3},
    {"x":22,"x2":23,"y":-1.25,"y2":-1.2,"n":3},{"x":24,"x2":28,"y":-1.25,"y2":-1.2,"n":3},{"x":31,"x2":34,"y":-1.25,"y2":-1.2,"n":3},{"x":35,"x2":40,"y":-1.25,"y2":-1.2,"n":3},{"x":42,"x2":44,"y":-1.25,"y2":-1.2,"n":3},{"x":45,"x2":47,"y":-1.25,"y2":-1.2,"n":3},{"x":48,"x2":52,"y":-1.25,"y2":-1.2,"n":3},{"x":53,"x2":55,"y":-1.25,"y2":-1.2,"n":3},{"x":56,"x2":59,"y":-1.25,"y2":-1.2,"n":3},{"x":60,"x2":61,"y":-1.25,"y2":-1.2,"n":3},{"x":62,"x2":69,"y":-1.25,"y2":-1.2,"n":3},
    {"x":25,"x2":27,"y":-1.3,"y2":-1.25,"n":3},{"x":28,"x2":32,"y":-1.3,"y2":-1.25,"n":3},{"x":34,"x2":35,"y":-1.3,"y2":-1.25,"n":3},{"x":36,"x2":38,"y":-1.3,"y2":-1.25,"n":3},{"x":39,"x2":42,"y":-1.3,"y2":-1.25,"n":3},{"x":44,"x2":46,"y":-1.3,"y2":-1.25,"n":3},{"x":47,"x2":48,"y":-1.3,"y2":-1.25,"n":3},{"x":49,"x2":50,"y":-1.3,"y2":-1.25,"n":3},{"x":51,"x2":54,"y":-1.3,"y2":-1.25,"n":3},{"x":55,"x2":57,"y":-1.3,"y2":-1.25,"n":3},{"x":58,"x2":60,"y":-1.3,"y2":-1.25,"n":3},{"x":61,"x2":63,"y":-1.3,"y2":-1.25,"n":3},{"x":64,"x2":65,"y":-1.3,"y2":-1.25,"n":3},{"x":66,"x2":67,"y":-1.3,"y2":-1.25,"n":3},{"x":68,"x2":70,"y":-1.3,"y2":-1.25,"n":3},
    {"x":26,"x2":29,"y":-1.35,"y2":-1.3,"n":3},{"x":30,"x2":31,"y":-1.35,"y2":-1.3,"n":3},{"x":32,"x2":34,"y":-1.35,"y2":-1.3,"n":3},{"x":35,"x2":36,"y":-1.35,"y2":-1.3,"n":3},{"x":37,"x2":39,"y":-1.35,"y2":-1.3,"n":3},{"x":40,"x2":41,"y":-1.35,"y2":-1.3,"n":3},{"x":42,"x2":45,"y":-1.35,"y2":-1.3,"n":3},{"x":46,"x2":49,"y":-1.35,"y2":-1.3,"n":3},{"x":50,"x2":51,"y":-1.35,"y2":-1.3,"n":3},{"x":52,"x2":53,"y":-1.35,"y2":-1.3,"n":3},{"x":54,"x2":56,"y":-1.35,"y2":-1.3,"n":3},{"x":57,"x2":58,"y":-1.35,"y2":-1.3,"n":3},{"x":59,"x2":62,"y":-1.35,"y2":-1.3,"n":3},{"x":63,"x2":64,"y":-1.35,"y2":-1.3,"n":3},{"x":65,"x2":68,"y":-1.35,"y2":-1.3,"n":3},
    {"x":22,"x2":23,"y":-1.4,"y2":-1.35,"n":3},{"x":25,"x2":26,"y":-1.4,"y2":-1.35,"n":3},{"x":27,"x2":28,"y":-1.4,"y2":-1.35,"n":3},{"x":29,"x2":30,"y":-1.4,"y2":-1.35,"n":3},{"x":31,"x2":32,"y":-1.4,"y2":-1.35,"n":3},{"x":34,"x2":37,"y":-1.4,"y2":-1.35,"n":3},{"x":38,"x2":40,"y":-1.4,"y2":-1.35,"n":3},{"x":41,"x2":42,"y":-1.4,"y2":-1.35,"n":3},{"x":43,"x2":44,"y":-1.4,"y2":-1.35,"n":3},{"x":45,"x2":47,"y":-1.4,"y2":-1.35,"n":3},{"x":49,"x2":52,"y":-1.4,"y2":-1.35,"n":3},{"x":53,"x2":55,"y":-1.4,"y2":-1.35,"n":3},{"x":56,"x2":59,"y":-1.4,"y2":-1.35,"n":3},{"x":60,"x2":61,"y":-1.4,"y2":-1.35,"n":3},{"x":62,"x2":63,"y":-1.4,"y2":-1.35,"n":3},{"x":64,"x2":66,"y":-1.4,"y2":-1.35,"n":3},{"x":68,"x2":70,"y":-1.4,"y2":-1.35,"n":3},
    {"x":23,"x2":24,"y":-1.45,"y2":-1.4,"n":3},{"x":26,"x2":27,"y":-1.45,"y2":-1.4,"n":3},{"x":28,"x2":29,"y":-1.45,"y2":-1.4,"n":3},{"x":30,"x2":31,"y":-1.45,"y2":-1.4,"n":3},{"x":32,"x2":35,"y":-1.45,"y2":-1.4,"n":3},{"x":37,"x2":38,"y":-1.45,"y2":-1.4,"n":3},{"x":39,"x2":41,"y":-1.45,"y2":-1.4,"n":3},{"x":42,"x2":43,"y":-1.45,"y2":-1.4,"n":3},{"x":44,"x2":46,"y":-1.45,"y2":-1.4,"n":3},{"x":47,"x2":50,"y":-1.45,"y2":-1.4,"n":3},{"x":51,"x2":54,"y":-1.45,"y2":-1.4,"n":3},{"x":55,"x2":57,"y":-1.45,"y2":-1.4,"n":3},{"x":58,"x2":60,"y":-1.45,"y2":-1.4,"n":3},{"x":61,"x2":62,"y":-1.45,"y2":-1.4,"n":3},{"x":63,"x2":65,"y":-1.45,"y2":-1.4,"n":3},{"x":66,"x2":69,"y":-1.45,"y2":-1.4,"n":3},
    {"x":24,"x2":25,"y":-1.5,"y2":-1.45,"n":3},{"x":27,"x2":28,"y":-1.5,"y2":-1.45,"n":3},{"x":29,"x2":32,"y":-1.5,"y2":-1.45,"n":3},{"x":33,"x2":34,"y":-1.5,"y2":-1.45,"n":3},{"x":35,"x2":39,"y":-1.5,"y2":-1.45,"n":3},{"x":41,"x2":44,"y":-1.5,"y2":-1.45,"n":3},{"x":46,"x2":49,"y":-1.5,"y2":-1.45,"n":3},{"x":50,"x2":51,"y":-1.5,"y2":-1.45,"n":3},{"x":52,"x2":53,"y":-1.5,"y2":-1.45,"n":3},{"x":54,"x2":56,"y":-1.5,"y2":-1.45,"n":3},{"x":57,"x2":58,"y":-1.5,"y2":-1.45,"n":3},{"x":59,"x2":64,"y":-1.5,"y2":-1.45,"n":3},{"x":65,"x2":68,"y":-1.5,"y2":-1.45,"n":3},{"x":69,"x2":70,"y":-1.5,"y2":-1.45,"n":3}
  ],
  "R": [
    {"x":1,"x2":2,"y":1.0,"y2":1.5,"n":20},{"x":1,"x2":2,"y":0.5,"y2":1.0,"n":28},{"x":1,"x2":2,"y":0.45,"y2":0.5,"n":45},{"x":1,"x2":2,"y":0.3,"y2":0.45,"n":80},{"x":1,"x2":2,"y":0.25,"y2":0.3,"n":60},{"x":1,"x2":2,"y":0.1,"y2":0.25,"n":40},{"x":1,"x2":2,"y":-0.1,"y2":0.1,"n":30},{"x":1,"x2":2,"y":-0.367,"y2":-0.1,"n":35},{"x":1,"x2":2,"y":-0.454,"y2":-0.39,"n":45},{"x":1,"x2":2,"y":-0.5,"y2":-0.477,"n":60},{"x":1,"x2":2,"y":-0.55,"y2":-0.5,"n":140},{"x":1,"x2":2,"y":-0.7,"y2":-0.55,"n":80},{"x":1,"x2":2,"y":-1.0,"y2":-0.7,"n":60},{"x":1,"x2":2,"y":-1.5,"y2":-1.0,"n":45},
    {"x":2,"x2":3,"y":1.0,"y2":1.5,"n":30},{"x":2,"x2":3,"y":0.5,"y2":1.0,"n":40},{"x":2,"x2":3,"y":0.3,"y2":0.5,"n":60},{"x":2,"x2":3,"y":0.25,"y2":0.3,"n":100},{"x":2,"x2":3,"y":0.2,"y2":0.25,"n":150},{"x":2,"x2":3,"y":0.15,"y2":0.2,"n":200},{"x":2,"x2":3,"y":0.05,"y2":0.15,"n":240},{"x":2,"x2":3,"y":0,"y2":0.05,"n":200},{"x":2,"x2":3,"y":-0.05,"y2":0,"n":160},{"x":2,"x2":3,"y":-0.15,"y2":-0.05,"n":110},{"x":2,"x2":3,"y":-0.3,"y2":-0.15,"n":80},{"x":2,"x2":3,"y":-0.5,"y2":-0.3,"n":65},{"x":2,"x2":3,"y":-0.55,"y2":-0.5,"n":150},{"x":2,"x2":3,"y":-0.8,"y2":-0.55,"n":70},{"x":2,"x2":3,"y":-1.5,"y2":-0.8,"n":50},
    {"x":3,"x2":4,"y":1.0,"y2":1.5,"n":50},{"x":3,"x2":4,"y":0.5,"y2":1.0,"n":60},{"x":3,"x2":4,"y":0.3,"y2":0.5,"n":80},{"x":3,"x2":4,"y":0.15,"y2":0.3,"n":110},{"x":3,"x2":4,"y":0.05,"y2":0.15,"n":160},{"x":3,"x2":4,"y":0,"y2":0.05,"n":230},{"x":3,"x2":4,"y":-0.05,"y2":0,"n":290},{"x":3,"x2":4,"y":-0.15,"y2":-0.05,"n":300},{"x":3,"x2":4,"y":-0.2,"y2":-0.15,"n":200},{"x":3,"x2":4,"y":-0.3,"y2":-0.2,"n":140},{"x":3,"x2":4,"y":-0.5,"y2":-0.3,"n":100},{"x":3,"x2":4,"y":-0.55,"y2":-0.5,"n":260},{"x":3,"x2":4,"y":-0.65,"y2":-0.55,"n":180},{"x":3,"x2":4,"y":-0.9,"y2":-0.65,"n":130},{"x":3,"x2":4,"y":-1.5,"y2":-0.9,"n":90},
    {"x":4,"x2":5,"y":1.0,"y2":1.5,"n":55},{"x":4,"x2":5,"y":0.5,"y2":1.0,"n":70},{"x":4,"x2":5,"y":0.3,"y2":0.5,"n":100},{"x":4,"x2":5,"y":0.15,"y2":0.3,"n":150},{"x":4,"x2":5,"y":0.05,"y2":0.15,"n":200},{"x":4,"x2":5,"y":-0.1,"y2":0.05,"n":230},{"x":4,"x2":5,"y":-0.2,"y2":-0.1,"n":170},{"x":4,"x2":5,"y":-0.5,"y2":-0.2,"n":120},{"x":4,"x2":5,"y":-0.55,"y2":-0.5,"n":230},{"x":4,"x2":5,"y":-0.8,"y2":-0.55,"n":120},{"x":4,"x2":5,"y":-1.5,"y2":-0.8,"n":90},
    {"x":5,"x2":6,"y":1.47,"y2":1.5,"n":15},{"x":5,"x2":6,"y":0.7,"y2":1.44,"n":12},{"x":5,"x2":6,"y":0.5,"y2":0.7,"n":25},{"x":5,"x2":6,"y":0.4,"y2":0.5,"n":60},{"x":5,"x2":6,"y":0.3,"y2":0.4,"n":120},{"x":5,"x2":6,"y":0.25,"y2":0.3,"n":200},{"x":5,"x2":6,"y":0.2,"y2":0.25,"n":280},{"x":5,"x2":6,"y":0.15,"y2":0.2,"n":350},{"x":5,"x2":6,"y":0.1,"y2":0.15,"n":400},{"x":5,"x2":6,"y":0,"y2":0.1,"n":440},{"x":5,"x2":6,"y":-0.05,"y2":0,"n":430},{"x":5,"x2":6,"y":-0.1,"y2":-0.05,"n":380},{"x":5,"x2":6,"y":-0.15,"y2":-0.1,"n":250},{"x":5,"x2":6,"y":-0.2,"y2":-0.15,"n":160},{"x":5,"x2":6,"y":-0.3,"y2":-0.2,"n":100},{"x":5,"x2":6,"y":-0.5,"y2":-0.3,"n":70},{"x":5,"x2":6,"y":-0.55,"y2":-0.5,"n":160},{"x":5,"x2":6,"y":-0.8,"y2":-0.55,"n":70},{"x":5,"x2":6,"y":-1.5,"y2":-0.8,"n":40},
    {"x":6,"x2":7,"y":1.0,"y2":1.5,"n":40},{"x":6,"x2":7,"y":0.5,"y2":1.0,"n":55},{"x":6,"x2":7,"y":0.4,"y2":0.5,"n":90},{"x":6,"x2":7,"y":0.3,"y2":0.4,"n":140},{"x":6,"x2":7,"y":0.2,"y2":0.3,"n":200},{"x":6,"x2":7,"y":0.1,"y2":0.2,"n":260},{"x":6,"x2":7,"y":-0.05,"y2":0.1,"n":300},{"x":6,"x2":7,"y":-0.15,"y2":-0.05,"n":230},{"x":6,"x2":7,"y":-0.3,"y2":-0.15,"n":170},{"x":6,"x2":7,"y":-0.5,"y2":-0.3,"n":140},{"x":6,"x2":7,"y":-0.55,"y2":-0.5,"n":240},{"x":6,"x2":7,"y":-0.7,"y2":-0.55,"n":170},{"x":6,"x2":7,"y":-0.9,"y2":-0.7,"n":120},{"x":6,"x2":7,"y":-1.5,"y2":-0.9,"n":80},
    {"x":7,"x2":8,"y":0.8,"y2":1.5,"n":8},{"x":7,"x2":8,"y":0.5,"y2":0.8,"n":20},{"x":7,"x2":8,"y":0.4,"y2":0.5,"n":70},{"x":7,"x2":8,"y":0.35,"y2":0.4,"n":150},{"x":7,"x2":8,"y":0.3,"y2":0.35,"n":220},{"x":7,"x2":8,"y":0.2,"y2":0.3,"n":280},{"x":7,"x2":8,"y":0.1,"y2":0.2,"n":350},{"x":7,"x2":8,"y":0.05,"y2":0.1,"n":400},{"x":7,"x2":8,"y":0,"y2":0.05,"n":350},{"x":7,"x2":8,"y":-0.05,"y2":0,"n":220},{"x":7,"x2":8,"y":-0.1,"y2":-0.05,"n":120},{"x":7,"x2":8,"y":-0.3,"y2":-0.1,"n":60},{"x":7,"x2":8,"y":-0.5,"y2":-0.3,"n":40},{"x":7,"x2":8,"y":-0.55,"y2":-0.5,"n":130},{"x":7,"x2":8,"y":-0.8,"y2":-0.55,"n":60},{"x":7,"x2":8,"y":-1.5,"y2":-0.8,"n":35},
    {"x":8,"x2":9,"y":1.376,"y2":1.448,"n":5},{"x":8,"x2":9,"y":1.318,"y2":1.353,"n":5},{"x":8,"x2":9,"y":1.261,"y2":1.289,"n":5},{"x":8,"x2":9,"y":1.168,"y2":1.203,"n":5},{"x":8,"x2":9,"y":0.899,"y2":1.058,"n":5},{"x":8,"x2":9,"y":0.5,"y2":0.784,"n":8},{"x":8,"x2":9,"y":0.4,"y2":0.5,"n":20},{"x":8,"x2":9,"y":0.3,"y2":0.4,"n":40},{"x":8,"x2":9,"y":0.2,"y2":0.3,"n":90},{"x":8,"x2":9,"y":0.15,"y2":0.2,"n":160},{"x":8,"x2":9,"y":0.1,"y2":0.15,"n":280},{"x":8,"x2":9,"y":0.05,"y2":0.1,"n":420},{"x":8,"x2":9,"y":0,"y2":0.05,"n":580},{"x":8,"x2":9,"y":-0.05,"y2":0,"n":620},{"x":8,"x2":9,"y":-0.1,"y2":-0.05,"n":600},{"x":8,"x2":9,"y":-0.15,"y2":-0.1,"n":450},{"x":8,"x2":9,"y":-0.2,"y2":-0.15,"n":330},{"x":8,"x2":9,"y":-0.25,"y2":-0.2,"n":220},{"x":8,"x2":9,"y":-0.3,"y2":-0.25,"n":140},{"x":8,"x2":9,"y":-0.5,"y2":-0.3,"n":60},{"x":8,"x2":9,"y":-0.55,"y2":-0.5,"n":130},{"x":8,"x2":9,"y":-0.8,"y2":-0.55,"n":50},{"x":8,"x2":9,"y":-1.5,"y2":-0.8,"n":30},
    {"x":9,"x2":10,"y":1.477,"y2":1.5,"n":5},{"x":9,"x2":10,"y":1.02,"y2":1.174,"n":5},{"x":9,"x2":10,"y":0.797,"y2":0.997,"n":5},{"x":9,"x2":10,"y":0.659,"y2":0.754,"n":5},{"x":9,"x2":10,"y":0.4,"y2":0.633,"n":8},{"x":9,"x2":10,"y":0.3,"y2":0.4,"n":25},{"x":9,"x2":10,"y":0.2,"y2":0.3,"n":60},{"x":9,"x2":10,"y":0.15,"y2":0.2,"n":150},{"x":9,"x2":10,"y":0.1,"y2":0.15,"n":280},{"x":9,"x2":10,"y":0.05,"y2":0.1,"n":500},{"x":9,"x2":10,"y":0,"y2":0.05,"n":760},{"x":9,"x2":10,"y":-0.05,"y2":0,"n":740},{"x":9,"x2":10,"y":-0.1,"y2":-0.05,"n":480},{"x":9,"x2":10,"y":-0.15,"y2":-0.1,"n":330},{"x":9,"x2":10,"y":-0.2,"y2":-0.15,"n":200},{"x":9,"x2":10,"y":-0.3,"y2":-0.2,"n":120},{"x":9,"x2":10,"y":-0.5,"y2":-0.3,"n":60},{"x":9,"x2":10,"y":-0.55,"y2":-0.5,"n":140},{"x":9,"x2":10,"y":-0.8,"y2":-0.55,"n":60},{"x":9,"x2":10,"y":-1.5,"y2":-0.8,"n":40},
    {"x":10,"x2":11,"y":1.419,"y2":1.448,"n":5},{"x":10,"x2":11,"y":1.347,"y2":1.384,"n":5},{"x":10,"x2":11,"y":1.232,"y2":1.29,"n":5},{"x":10,"x2":11,"y":0.5,"y2":1.174,"n":6},{"x":10,"x2":11,"y":0.4,"y2":0.5,"n":25},{"x":10,"x2":11,"y":0.35,"y2":0.4,"n":80},{"x":10,"x2":11,"y":0.3,"y2":0.35,"n":150},{"x":10,"x2":11,"y":0.25,"y2":0.3,"n":300},{"x":10,"x2":11,"y":0.2,"y2":0.25,"n":450},{"x":10,"x2":11,"y":0.15,"y2":0.2,"n":560},{"x":10,"x2":11,"y":0.1,"y2":0.15,"n":600},{"x":10,"x2":11,"y":0.05,"y2":0.1,"n":600},{"x":10,"x2":11,"y":0,"y2":0.05,"n":500},{"x":10,"x2":11,"y":-0.05,"y2":0,"n":350},{"x":10,"x2":11,"y":-0.1,"y2":-0.05,"n":220},{"x":10,"x2":11,"y":-0.3,"y2":-0.1,"n":80},{"x":10,"x2":11,"y":-0.5,"y2":-0.3,"n":50},{"x":10,"x2":11,"y":-0.55,"y2":-0.5,"n":110},{"x":10,"x2":11,"y":-0.8,"y2":-0.55,"n":45},{"x":10,"x2":11,"y":-1.5,"y2":-0.8,"n":30}
  ]
},
"hconcat": [
  {
    "width": 424, "height": 398,
    "resolve": {"scale": {"x": "independent", "y": "independent"}, "axis": {"x": "independent", "y": "independent"}},
    "layer": [
      {
        "data": {"name": "L"},
        "mark": {"type": "rect", "x2Offset": 0.8, "y2Offset": -0.8},
        "encoding": {
          "x": {"field": "x", "type": "quantitative", "scale": {"domain": [0, 70], "nice": false, "zero": false}, "axis": {"orient": "bottom", "values": [0,10,20,30,40,50,60,70], "format": "d", "title": "Gap [BC]", "tickSize": -6, "labelPadding": 11, "titlePadding": 6}},
          "x2": {"field": "x2"},
          "y": {"field": "y", "type": "quantitative", "scale": {"domain": [-1.5, 1.955], "nice": false, "zero": false}, "axis": {"orient": "left", "values": [-1.5,-1,-0.5,0,0.5,1,1.5], "format": ".1f", "title": "Eₜᵖʳᵉᵈ − Eₜᵗʳᵘᵉ [GeV]", "tickSize": -6, "labelPadding": 12, "titlePadding": 8}},
          "y2": {"field": "y2"},
          "color": {"field": "n", "type": "quantitative", "scale": {"scheme": "viridis", "domain": [0, 1322]}, "legend": {"type": "gradient", "title": "Number of Entries", "titleOrient": "right", "titleAngle": 270, "titleAnchor": "middle", "titleBaseline": "top", "titlePadding": 23, "direction": "vertical", "gradientLength": 398, "gradientThickness": 20, "values": [200,400,600,800,1000,1200], "format": "d", "offset": 26, "gradientStrokeColor": "#000", "gradientStrokeWidth": 1, "labelOffset": 6}}
        }
      },
      {
        "data": {"values": [{}]},
        "mark": {"type": "text", "text": "AREUS", "fontSize": 21, "fontWeight": "bold", "fontStyle": "italic", "align": "left", "baseline": "alphabetic"},
        "encoding": {
          "x": {"datum": 2.48, "type": "quantitative", "scale": {"domain": [0, 70], "nice": false, "zero": false}, "axis": {"orient": "top", "values": [0,10,20,30,40,50,60,70], "labels": false, "title": null, "tickSize": -6}},
          "y": {"datum": 1.717, "type": "quantitative", "scale": {"domain": [-1.5, 1.955], "nice": false, "zero": false}, "axis": {"orient": "right", "values": [-1.5,-1,-0.5,0,0.5,1,1.5], "labels": false, "title": null, "tickSize": -6}}
        }
      },
      {
        "data": {"values": [{}]},
        "mark": {"type": "text", "text": "Simulation", "fontSize": 21, "align": "left", "baseline": "alphabetic"},
        "encoding": {
          "x": {"datum": 16.5, "type": "quantitative", "scale": {"domain": [0, 70], "nice": false, "zero": false}, "axis": {"orient": "bottom", "values": [2,4,6,8,12,14,16,18,22,24,26,28,32,34,36,38,42,44,46,48,52,54,56,58,62,64,66,68], "labels": false, "title": null, "tickSize": -3}},
          "y": {"datum": 1.717, "type": "quantitative", "scale": {"domain": [-1.5, 1.955], "nice": false, "zero": false}, "axis": {"orient": "left", "values": [-1.4,-1.3,-1.2,-1.1,-0.9,-0.8,-0.7,-0.6,-0.4,-0.3,-0.2,-0.1,0.1,0.2,0.3,0.4,0.6,0.7,0.8,0.9,1.1,1.2,1.3,1.4,1.6,1.7,1.8,1.9], "labels": false, "title": null, "tickSize": -3}}
        }
      },
      {
        "data": {"values": [{}]},
        "mark": {"type": "text", "text": "work in progress", "fontSize": 16, "align": "left", "baseline": "alphabetic"},
        "encoding": {
          "x": {"datum": 2.31, "type": "quantitative", "scale": {"domain": [0, 70], "nice": false, "zero": false}, "axis": {"orient": "top", "values": [2,4,6,8,12,14,16,18,22,24,26,28,32,34,36,38,42,44,46,48,52,54,56,58,62,64,66,68], "labels": false, "title": null, "tickSize": -3}},
          "y": {"datum": 1.549, "type": "quantitative", "scale": {"domain": [-1.5, 1.955], "nice": false, "zero": false}, "axis": {"orient": "right", "values": [-1.4,-1.3,-1.2,-1.1,-0.9,-0.8,-0.7,-0.6,-0.4,-0.3,-0.2,-0.1,0.1,0.2,0.3,0.4,0.6,0.7,0.8,0.9,1.1,1.2,1.3,1.4,1.6,1.7,1.8,1.9], "labels": false, "title": null, "tickSize": -3}}
        }
      },
      {
        "data": {"values": [{}]},
        "mark": {"type": "text", "text": "(i)", "fontSize": 27, "fontWeight": "bold", "align": "left", "baseline": "alphabetic"},
        "encoding": {
          "x": {"datum": 13.0, "type": "quantitative", "scale": {"domain": [0, 70], "nice": false, "zero": false}, "axis": null},
          "y": {"datum": -2.27, "type": "quantitative", "scale": {"domain": [-1.5, 1.955], "nice": false, "zero": false}, "axis": null}
        }
      },
      {
        "data": {"values": [{}]},
        "mark": {"type": "text", "text": "Abstände bis 70 BCs.", "fontSize": 27, "align": "left", "baseline": "alphabetic"},
        "encoding": {
          "x": {"datum": 18.45, "type": "quantitative", "scale": {"domain": [0, 70], "nice": false, "zero": false}, "axis": null},
          "y": {"datum": -2.27, "type": "quantitative", "scale": {"domain": [-1.5, 1.955], "nice": false, "zero": false}, "axis": null}
        }
      }
    ]
  },
  {
    "width": 424, "height": 398,
    "resolve": {"scale": {"x": "independent", "y": "independent"}, "axis": {"x": "independent", "y": "independent"}},
    "layer": [
      {
        "data": {"name": "R"},
        "mark": {"type": "rect", "x2Offset": 0.8, "y2Offset": -0.8},
        "encoding": {
          "x": {"field": "x", "type": "quantitative", "scale": {"domain": [0, 11], "nice": false, "zero": false}, "axis": {"orient": "bottom", "values": [0,2,4,6,8,10], "format": "d", "title": "Gap [BC]", "tickSize": -6, "labelPadding": 11, "titlePadding": 6}},
          "x2": {"field": "x2"},
          "y": {"field": "y", "type": "quantitative", "scale": {"domain": [-1.5, 1.955], "nice": false, "zero": false}, "axis": {"orient": "left", "values": [-1.5,-1,-0.5,0,0.5,1,1.5], "format": ".1f", "title": "Eₜᵖʳᵉᵈ − Eₜᵗʳᵘᵉ [GeV]", "tickSize": -6, "labelPadding": 12, "titlePadding": 8}},
          "y2": {"field": "y2"},
          "color": {"field": "n", "type": "quantitative", "scale": {"scheme": "viridis", "domain": [0, 1322]}, "legend": {"type": "gradient", "title": "Number of Entries", "titleOrient": "right", "titleAngle": 270, "titleAnchor": "middle", "titleBaseline": "top", "titlePadding": 23, "direction": "vertical", "gradientLength": 398, "gradientThickness": 20, "values": [200,400,600,800,1000,1200], "format": "d", "offset": 26, "gradientStrokeColor": "#000", "gradientStrokeWidth": 1, "labelOffset": 6}}
        }
      },
      {
        "data": {"values": [{}]},
        "mark": {"type": "text", "text": "AREUS", "fontSize": 21, "fontWeight": "bold", "fontStyle": "italic", "align": "left", "baseline": "alphabetic"},
        "encoding": {
          "x": {"datum": 0.39, "type": "quantitative", "scale": {"domain": [0, 11], "nice": false, "zero": false}, "axis": {"orient": "top", "values": [0,2,4,6,8,10], "labels": false, "title": null, "tickSize": -6}},
          "y": {"datum": 1.717, "type": "quantitative", "scale": {"domain": [-1.5, 1.955], "nice": false, "zero": false}, "axis": {"orient": "right", "values": [-1.5,-1,-0.5,0,0.5,1,1.5], "labels": false, "title": null, "tickSize": -6}}
        }
      },
      {
        "data": {"values": [{}]},
        "mark": {"type": "text", "text": "Simulation", "fontSize": 21, "align": "left", "baseline": "alphabetic"},
        "encoding": {
          "x": {"datum": 2.6, "type": "quantitative", "scale": {"domain": [0, 11], "nice": false, "zero": false}, "axis": {"orient": "bottom", "values": [0.5,1,1.5,2.5,3,3.5,4.5,5,5.5,6.5,7,7.5,8.5,9,9.5,10.5,11], "labels": false, "title": null, "tickSize": -3}},
          "y": {"datum": 1.717, "type": "quantitative", "scale": {"domain": [-1.5, 1.955], "nice": false, "zero": false}, "axis": {"orient": "left", "values": [-1.4,-1.3,-1.2,-1.1,-0.9,-0.8,-0.7,-0.6,-0.4,-0.3,-0.2,-0.1,0.1,0.2,0.3,0.4,0.6,0.7,0.8,0.9,1.1,1.2,1.3,1.4,1.6,1.7,1.8,1.9], "labels": false, "title": null, "tickSize": -3}}
        }
      },
      {
        "data": {"values": [{}]},
        "mark": {"type": "text", "text": "work in progress", "fontSize": 16, "align": "left", "baseline": "alphabetic"},
        "encoding": {
          "x": {"datum": 0.37, "type": "quantitative", "scale": {"domain": [0, 11], "nice": false, "zero": false}, "axis": {"orient": "top", "values": [0.5,1,1.5,2.5,3,3.5,4.5,5,5.5,6.5,7,7.5,8.5,9,9.5,10.5,11], "labels": false, "title": null, "tickSize": -3}},
          "y": {"datum": 1.549, "type": "quantitative", "scale": {"domain": [-1.5, 1.955], "nice": false, "zero": false}, "axis": {"orient": "right", "values": [-1.4,-1.3,-1.2,-1.1,-0.9,-0.8,-0.7,-0.6,-0.4,-0.3,-0.2,-0.1,0.1,0.2,0.3,0.4,0.6,0.7,0.8,0.9,1.1,1.2,1.3,1.4,1.6,1.7,1.8,1.9], "labels": false, "title": null, "tickSize": -3}}
        }
      },
      {
        "data": {"values": [{}]},
        "mark": {"type": "text", "text": "(ii)", "fontSize": 27, "fontWeight": "bold", "align": "left", "baseline": "alphabetic"},
        "encoding": {
          "x": {"datum": 1.95, "type": "quantitative", "scale": {"domain": [0, 11], "nice": false, "zero": false}, "axis": null},
          "y": {"datum": -2.27, "type": "quantitative", "scale": {"domain": [-1.5, 1.955], "nice": false, "zero": false}, "axis": null}
        }
      },
      {
        "data": {"values": [{}]},
        "mark": {"type": "text", "text": "Abstände bis 10 BCs.", "fontSize": 27, "align": "left", "baseline": "alphabetic"},
        "encoding": {
          "x": {"datum": 3.0, "type": "quantitative", "scale": {"domain": [0, 11], "nice": false, "zero": false}, "axis": null},
          "y": {"datum": -2.27, "type": "quantitative", "scale": {"domain": [-1.5, 1.955], "nice": false, "zero": false}, "axis": null}
        }
      }
    ]
  }
],
"spacing": 14,
"resolve": {"scale": {"color": "independent"}, "legend": {"color": "independent"}}
}
